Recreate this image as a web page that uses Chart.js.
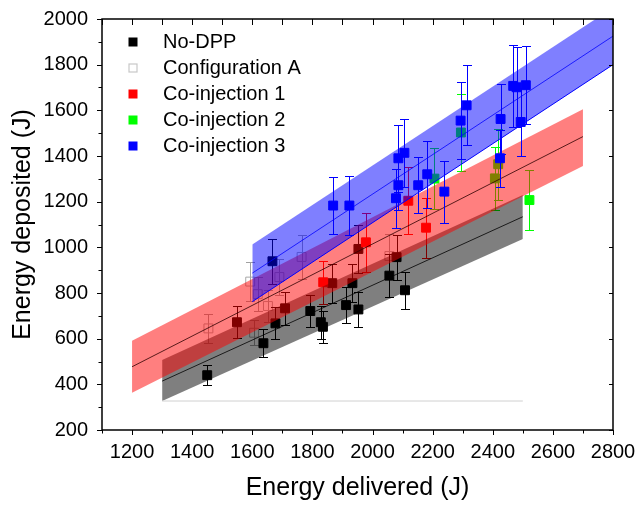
<!DOCTYPE html>
<html><head><meta charset="utf-8">
<script src="https://cdn.jsdelivr.net/npm/chart.js@4.4.1/dist/chart.umd.min.js"></script>
<style>html,body{margin:0;padding:0;background:#fff;overflow:hidden}</style>
</head><body>
<canvas id="c" width="638" height="505"></canvas>
<script>
// ---------- DATA ----------
const seriesNames = ['No-DPP', 'Configuration A', 'Co-injection 1', 'Co-injection 2', 'Co-injection 3'];

const noDppX   = [1450, 1549, 1637, 1667, 1677, 1709, 1793, 1828, 1835, 1866, 1912, 1933, 1953, 1953, 2056, 2080, 2108];
const noDppY   = [440, 672, 580, 939, 667, 733, 721, 672, 652, 843, 747, 843, 993, 728, 876, 957, 812];
const noDppErr = [44, 70, 62, 98, 70, 73, 71, 72, 70, 85, 80, 83, 104, 78, 93, 98, 82];

const confAX   = [1454, 1593, 1606, 1618, 1652, 1690, 1764, 2056];
const confAY   = [645, 850, 626, 795, 743, 870, 958, 962];
const confAErr = [64, 85, 55, 75, 70, 80, 95, 95];

const coinj1X   = [1836, 1978, 2119, 2178];
const coinj1Y   = [847, 1022, 1204, 1086];
const coinj1Err = [93, 128, 147, 131];

const coinj2X   = [2206, 2294, 2407, 2418, 2522];
const coinj2Y   = [1301, 1503, 1302, 1364, 1207];
const coinj2Err = [132, 167, 137, 155, 133];

const coinj3X   = [1869, 1923, 2078, 2086, 2086, 2106, 2152, 2182, 2239, 2293, 2313, 2424, 2426, 2468, 2479, 2493, 2510];
const coinj3Y   = [1183, 1183, 1215, 1272, 1390, 1414, 1272, 1320, 1244, 1555, 1622, 1390, 1562, 1707, 1701, 1549, 1710];
const coinj3Err = [124, 128, 130, 110, 146, 150, 122, 146, 136, 168, 175, 125, 155, 180, 175, 150, 170];

// fit lines and bands (end points)
const grayBandX = [1300, 2500];
const grayUpper = [507, 1229];
const grayLower = [327, 1037];
const grayFit   = [414, 1134];

const redBandX = [1200, 2700];
const redUpper = [591, 1605];
const redLower = [363, 1356];
const redFit   = [477, 1485];

const blueBandX = [1600, 2800];
const blueUpper = [1012, 2050];
const blueLower = [762, 1800];
const blueFit   = [887, 1925];

const confALineX = [1300, 2500];
const confALineY = [327, 327];

const xTickRange = [1100, 2800];
const yTickRange = [200, 2000];

// ---------- BUILD ----------
const FONT = "'Liberation Sans', Arial, sans-serif";
Chart.defaults.font.family = FONT;
Chart.defaults.color = '#000';

const pts = (xs, ys) => xs.map((x, i) => ({x, y: ys[i]}));

function markerDs(label, xs, ys, errs, fill, border, errColor, order) {
  return {
    type: 'line', label, data: pts(xs, ys), showLine: false,
    pointStyle: 'rect', pointRadius: 6.3, pointHoverRadius: 6.3,
    pointBackgroundColor: fill, pointBorderColor: border, pointBorderWidth: 1,
    borderColor: border, backgroundColor: fill,
    errorBars: errs, errorColor: errColor, order, legendItem: true
  };
}
function lineDs(xs, ys, color, width, order, extra) {
  return Object.assign({
    type: 'line', data: pts(xs, ys), borderColor: color, borderWidth: width,
    pointRadius: 0, pointHoverRadius: 0, fill: false, tension: 0, order
  }, extra || {});
}

const datasets = [
  markerDs(seriesNames[1], confAX, confAY, confAErr, 'rgba(0,0,0,0)', '#a8a8a8', '#a0a0a0', 90),
  markerDs(seriesNames[0], noDppX, noDppY, noDppErr, '#000000', '#000000', '#000000', 80),
  markerDs(seriesNames[2], coinj1X, coinj1Y, coinj1Err, '#ff0000', '#ff0000', '#ff0000', 70),
  markerDs(seriesNames[3], coinj2X, coinj2Y, coinj2Err, '#00ff00', '#00ff00', '#00ff00', 60),
  // gray band (No-DPP fit)
  lineDs(grayBandX, grayUpper, 'rgba(0,0,0,0)', 0, 50, {fill: '+1', backgroundColor: 'rgba(0,0,0,0.5)'}),
  lineDs(grayBandX, grayLower, 'rgba(0,0,0,0)', 0, 49),
  lineDs(grayBandX, grayFit, '#000000', 0.8, 48),
  lineDs(confALineX, confALineY, '#d0d0d0', 1, 47),
  // red band
  lineDs(redBandX, redUpper, 'rgba(0,0,0,0)', 0, 40, {fill: '+1', backgroundColor: 'rgba(255,0,0,0.5)'}),
  lineDs(redBandX, redLower, 'rgba(0,0,0,0)', 0, 39),
  lineDs(redBandX, redFit, '#300000', 0.8, 38),
  // blue markers
  markerDs(seriesNames[4], coinj3X, coinj3Y, coinj3Err, '#0000ff', '#0000ff', '#0000ff', 30),
  // blue band
  lineDs(blueBandX, blueUpper, 'rgba(0,0,0,0)', 0, 20, {fill: '+1', backgroundColor: 'rgba(0,0,255,0.5)'}),
  lineDs(blueBandX, blueLower, '#0000ff', 1, 19),
  lineDs(blueBandX, blueFit, '#0000ff', 0.8, 18)
];

const errorBarPlugin = {
  id: 'errorBars',
  beforeDatasetDraw(chart, args) {
    const ds = chart.data.datasets[args.index];
    if (!ds.errorBars) return;
    const {ctx, chartArea: a, scales: {x, y}} = chart;
    ctx.save();
    ctx.beginPath(); ctx.rect(a.left, a.top, a.right - a.left, a.bottom - a.top); ctx.clip();
    ctx.strokeStyle = ds.errorColor; ctx.lineWidth = 1;
    ds.data.forEach((p, i) => {
      const e = ds.errorBars[i];
      const px = Math.round(x.getPixelForValue(p.x)) + 0.5;
      const t = Math.round(y.getPixelForValue(p.y + e)) + 0.5;
      const b = Math.round(y.getPixelForValue(p.y - e)) + 0.5;
      ctx.beginPath();
      ctx.moveTo(px, t); ctx.lineTo(px, b);
      ctx.moveTo(px - 4.5, t); ctx.lineTo(px + 4.5, t);
      ctx.moveTo(px - 4.5, b); ctx.lineTo(px + 4.5, b);
      ctx.stroke();
    });
    ctx.restore();
  }
};

const framePlugin = {
  id: 'frame',
  afterDatasetsDraw(chart) {
    const {ctx, chartArea: a, scales: {x, y}} = chart;
    ctx.save();
    ctx.strokeStyle = '#000';
    ctx.lineWidth = 1;
    ctx.beginPath();
    x.ticks.forEach(t => {
      const px = Math.round(x.getPixelForValue(t.value)) + 0.5;
      const major = Math.round(t.value) % 200 === 0;
      ctx.moveTo(px, a.bottom); ctx.lineTo(px, a.bottom + (major ? 5 : 3.5));
      ctx.moveTo(px, a.top); ctx.lineTo(px, a.top + 6);
    });
    y.ticks.forEach(t => {
      const py = Math.round(y.getPixelForValue(t.value)) + 0.5;
      const major = Math.round(t.value) % 200 === 0;
      ctx.moveTo(a.left, py); ctx.lineTo(a.left - (major ? 5 : 3.5), py);
      if (major) { ctx.moveTo(a.right, py); ctx.lineTo(a.right - 4, py); }
    });
    ctx.stroke();
    ctx.lineWidth = 1.5;
    ctx.strokeRect(a.left, a.top, a.right - a.left, a.bottom - a.top);
    ctx.restore();
  }
};

const legendPlugin = {
  id: 'insideLegend',
  afterDraw(chart) {
    const {ctx, chartArea: a} = chart;
    const dsByName = {};
    chart.data.datasets.forEach(d => { if (d.legendItem) dsByName[d.label] = d; });
    ctx.save();
    ctx.font = '20px ' + FONT;
    ctx.textBaseline = 'middle';
    ctx.textAlign = 'left';
    seriesNames.forEach((name, i) => {
      const d = dsByName[name];
      const cy = a.top + 23 + i * 26;
      const cx = a.left + 31;
      if (name === 'Configuration A') {
        ctx.fillStyle = '#fff';
        ctx.fillRect(cx - 4.5, cy - 4.5, 9, 9);
        ctx.strokeStyle = '#c8c8c8'; ctx.lineWidth = 1.2;
        ctx.strokeRect(cx - 4, cy - 4, 8, 8);
      } else {
        ctx.fillStyle = d.pointBackgroundColor;
        ctx.fillRect(cx - 4.5, cy - 4.5, 9, 9);
      }
      ctx.fillStyle = '#000';
      ctx.fillText(name, a.left + 61, cy);
    });
    ctx.restore();
  }
};

new Chart(document.getElementById('c'), {
  type: 'line',
  data: {datasets},
  plugins: [errorBarPlugin, framePlugin, legendPlugin],
  options: {
    responsive: false, animation: false, events: [],
    layout: {padding: {left: 0, top: 19, right: 25, bottom: 0}},
    plugins: {legend: {display: false}, tooltip: {enabled: false}},
    scales: {
      x: {
        type: 'linear', min: xTickRange[0], max: xTickRange[1],
        grid: {display: false, drawTicks: false}, border: {display: false},
        ticks: {stepSize: 100, autoSkip: false, maxRotation: 0, minRotation: 0, padding: 10, color: '#000',
                font: {size: 20}, callback: v => (Math.round(v) % 200 === 0 ? String(Math.round(v)) : '')},
        title: {display: true, text: 'Energy delivered (J)', color: '#000', font: {size: 25}, padding: {top: 0, bottom: 2}},
        afterFit: s => { s.height = 75; s.paddingLeft = 0; s.paddingRight = 0; }
      },
      y: {
        type: 'linear', min: yTickRange[0], max: yTickRange[1],
        grid: {display: false, drawTicks: false}, border: {display: false},
        ticks: {stepSize: 100, autoSkip: false, padding: 14, color: '#000',
                font: {size: 20}, callback: v => (Math.round(v) % 200 === 0 ? String(Math.round(v)) : '')},
        title: {display: true, text: 'Energy deposited (J)', color: '#000', font: {size: 25}, padding: {top: 8, bottom: 0}},
        afterFit: s => { s.width = 102; s.paddingTop = 0; s.paddingBottom = 0; }
      }
    }
  }
});
</script>
</body></html>
